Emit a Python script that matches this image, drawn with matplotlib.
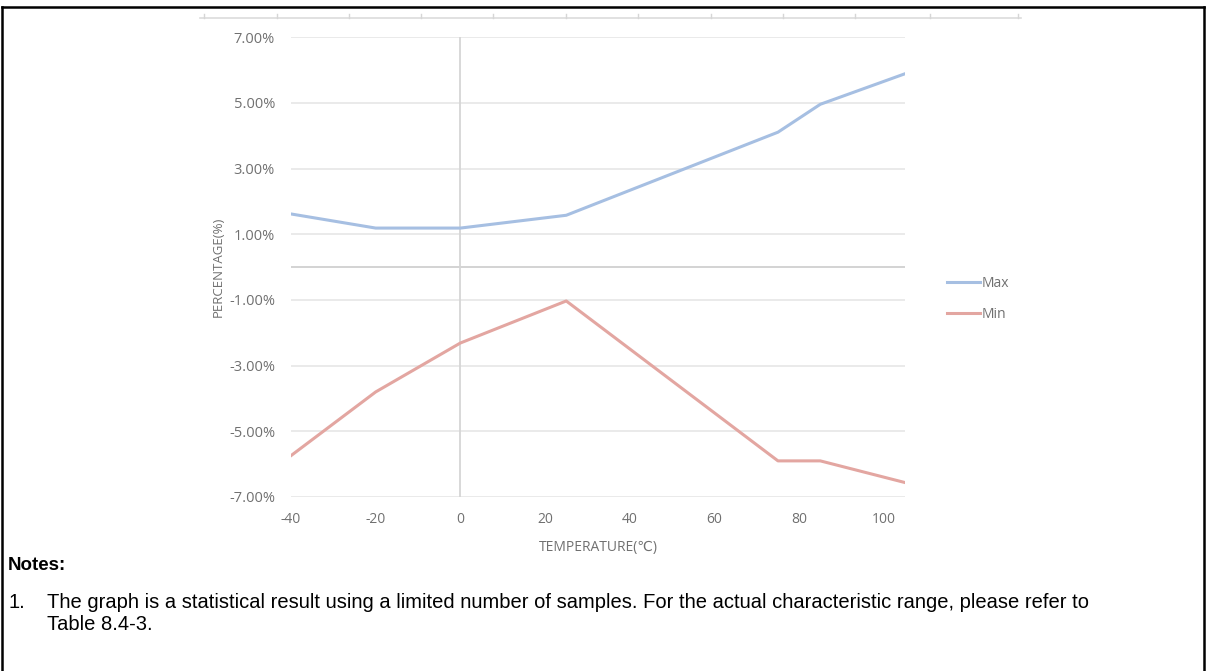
import matplotlib
matplotlib.use("Agg")
import matplotlib.pyplot as plt
from matplotlib.lines import Line2D
from matplotlib.ticker import FuncFormatter

plt.rcParams["axes.unicode_minus"] = False

# ---- data ----
temps = [-40, -20, 0, 25, 75, 85, 105]
max_pct = [1.62, 1.19, 1.19, 1.58, 4.11, 4.96, 5.89]
min_pct = [-5.74, -3.80, -2.31, -1.03, -5.90, -5.90, -6.56]
x_ticks = [-40, -20, 0, 20, 40, 60, 80, 100]
y_ticks = [-7, -5, -3, -1, 1, 3, 5, 7]
series_names = ["Max", "Min"]
notes_title = "Notes:"
note_lines = ["The graph is a statistical result using a limited number of samples. For the actual characteristic range, please refer to",
              "Table 8.4-3."]

W, H = 1206, 671
fig = plt.figure(figsize=(W / 100, H / 100), dpi=100)
fig.patch.set_facecolor("white")

def fx(px):
    return px / W

def fy(py):
    return 1 - py / H

ax = fig.add_axes([fx(291), fy(497), fx(905) - fx(291), fy(37.3) - fy(497)])
ax.set_xlim(-40, 105)
ax.set_ylim(-7, 7)
for s in ax.spines.values():
    s.set_visible(False)

grid_c = "#e6e6e6"
for yv in y_ticks:
    ax.axhline(yv, color=grid_c, lw=1.2, zorder=1)
ax.axhline(0, color="#d0d0d0", lw=1.3, zorder=1)
ax.axvline(0, color="#d6d6d6", lw=1.3, zorder=1)

blue = "#a6bfe2"
red = "#e3a6a1"
ax.plot(temps, max_pct, color=blue, lw=2.2, label=series_names[0], zorder=3,
        solid_joinstyle="round")
ax.plot(temps, min_pct, color=red, lw=2.2, label=series_names[1], zorder=3,
        solid_joinstyle="round")

txt_c = "#707070"
ax.set_xticks(x_ticks)
ax.set_yticks(y_ticks)
ax.yaxis.set_major_formatter(FuncFormatter(lambda v, p: f"{v:.2f}%"))
ax.tick_params(axis="both", length=0, colors=txt_c)
ax.tick_params(axis="y", pad=11.5, labelsize=10.5)
ax.tick_params(axis="x", pad=11, labelsize=10)
for lab in ax.get_xticklabels() + ax.get_yticklabels():
    lab.set_family("Open Sans")

fig.text(fx(598), fy(547), "TEMPERATURE(\u2103)", ha="center", va="center",
         fontsize=10, color=txt_c, family=["Open Sans", "DejaVu Sans"])
fig.text(fx(218), fy(267), "PERCENTAGE(%)", ha="center", va="center",
         rotation=90, fontsize=9.5, color=txt_c, family="Open Sans")

leg = ax.legend(loc="center left", bbox_to_anchor=(fx(934), fy(299)),
                bbox_transform=fig.transFigure, frameon=False,
                handlelength=2.4, handletextpad=0.15, labelspacing=1.15,
                prop={"family": "Open Sans", "size": 10})
for t in leg.get_texts():
    t.set_color(txt_c)

# remnant axis of previous chart at top
fig.add_artist(Line2D([fx(200), fx(1021)], [fy(18), fy(18)], color="#dcdcdc", lw=1.2))
for px in [204, 277, 349, 421, 493, 566, 638, 711, 783, 855, 930, 1018]:
    fig.add_artist(Line2D([fx(px), fx(px)], [fy(18), fy(14)], color="#d6d6d6", lw=1))

# frame
fig.add_artist(Line2D([fx(2), fx(2)], [fy(7), 0], color="black", lw=1.8))
fig.add_artist(Line2D([fx(2), fx(1203.5)], [fy(7), fy(7)], color="black", lw=1.8))
fig.add_artist(Line2D([fx(1203.5), fx(1203.5)], [fy(7), 0], color="black", lw=1.8))

# notes
note_fs = 14.5
fig.text(fx(8), fy(566), notes_title, ha="left", va="center", fontsize=note_fs - 1,
         fontweight="bold", family="Liberation Sans", color="black")
fig.text(fx(8), fy(602), "1.", ha="left", va="center", fontsize=note_fs,
         family="Liberation Sans", color="black")
fig.text(fx(47), fy(602), note_lines[0], ha="left", va="center", fontsize=note_fs,
         family="Liberation Sans", color="black")
fig.text(fx(47), fy(625), note_lines[1], ha="left", va="center", fontsize=note_fs,
         family="Liberation Sans", color="black")

fig.savefig("out.png", dpi=100)
